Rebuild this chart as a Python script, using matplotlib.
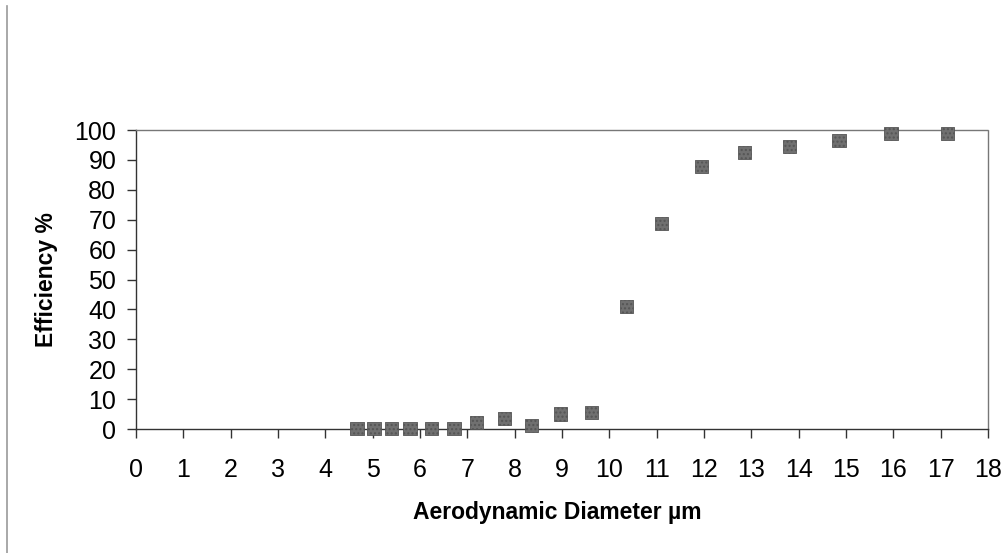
import matplotlib
matplotlib.use("Agg")
import matplotlib.pyplot as plt
from matplotlib.lines import Line2D

plt.rcParams["font.family"] = ["Liberation Sans", "DejaVu Sans"]

# diametro aerodinamico (um) e eficiencia (%)
diametro = [4.67, 5.03, 5.39, 5.79, 6.24, 6.72, 7.19, 7.78, 8.35, 8.96,
            9.62, 10.37, 11.11, 11.95, 12.85, 13.80, 14.85, 15.95, 17.15]
eficiencia = [0.3, 0.3, 0.3, 0.3, 0.3, 0.3, 2.1, 3.6, 1.3, 5.0,
              5.6, 41.0, 68.8, 87.7, 92.5, 94.6, 96.6, 98.7, 98.7]

x_ticks = list(range(0, 19))
y_ticks = list(range(0, 101, 10))

fig = plt.figure(figsize=(10.08, 5.53), dpi=100)
ax = fig.add_axes([0.1349, 0.2242, 0.8453, 0.5407])

ax.scatter(diametro, eficiencia, marker="s", s=90, facecolor="#707070",
           edgecolor="#555555", linewidth=0.6, hatch="....", zorder=3,
           clip_on=False)

ax.set_xlim(0, 18)
ax.set_ylim(0, 100)
ax.set_xticks(x_ticks)
ax.set_yticks(y_ticks)
ax.tick_params(axis="both", labelsize=18, length=6.2, width=1,
               color="#333333", direction="out")
ax.tick_params(axis="x", pad=15)
ax.tick_params(axis="y", pad=8)

for lado in ["left", "bottom"]:
    ax.spines[lado].set_color("#333333")
    ax.spines[lado].set_linewidth(1)
for lado in ["top", "right"]:
    ax.spines[lado].set_color("#777777")
    ax.spines[lado].set_linestyle((0, (1, 1)))
    ax.spines[lado].set_linewidth(1)

ax.set_xlabel("Aerodynamic Diameter µm", fontsize=16.5, fontweight="bold")
ax.set_ylabel("Efficiency %", fontsize=16.5, fontweight="bold")
ax.xaxis.set_label_coords(0.494, -0.24)
ax.yaxis.set_label_coords(-0.092, 0.5)

# linha cinza da borda a esquerda
fig.add_artist(Line2D([0.0074, 0.0074], [0.0, 0.99], color="#999999",
                      linewidth=1.2, transform=fig.transFigure))

fig.savefig("out.png", dpi=100)
